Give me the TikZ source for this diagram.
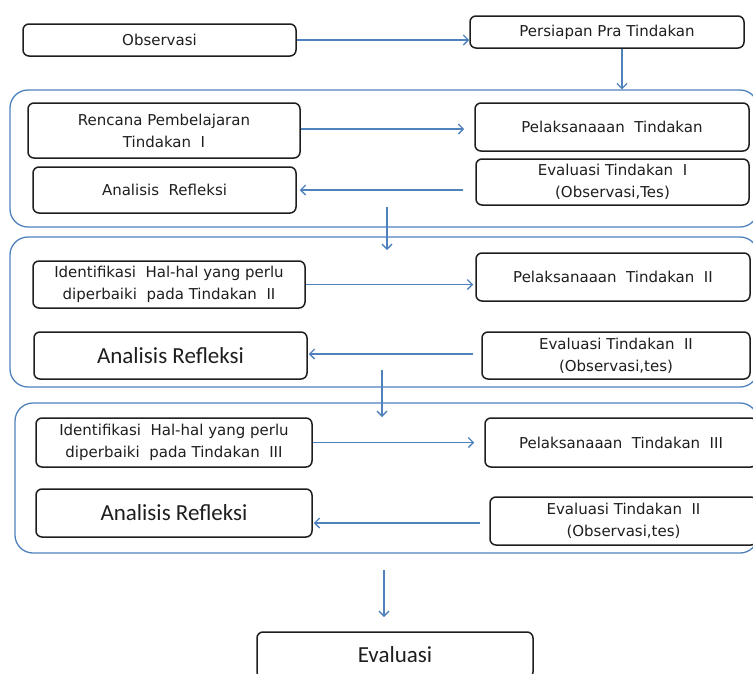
\documentclass[tikz,border=0pt]{standalone}
\usepackage{fontspec}
\usepackage{tikz}
\usetikzlibrary{arrows.meta,positioning}
\newfontfamily\boxfont{DejaVu Sans}
\newfontfamily\bigfont{Carlito}
\definecolor{ink}{RGB}{30,30,30}
\definecolor{flow}{RGB}{79,129,189}
\tikzset{
  stepbox/.style={draw=ink,line width=1.5pt,rounded corners=6pt,inner sep=0pt,
    align=center,text=ink,font=\boxfont\fontsize{15}{22}\selectfont},
  bigbox/.style={stepbox,font=\bigfont\fontsize{23}{26}\selectfont},
  phase/.style={draw=flow,line width=1.3pt,rounded corners=18pt,inner sep=0pt},
  arr/.style={-{Straight Barb[length=5pt,width=10pt]},draw=flow,line width=1.3pt},
}

\begin{document}
\begin{tikzpicture}[x=1pt,y=-1pt]
  \useasboundingbox (0,0) rectangle (753,673);
  % the three cycles
  \node[phase,minimum width=748pt,minimum height=137pt] (g1) at (384,158.5) {};
  \node[phase,minimum width=748pt,minimum height=150pt] (g2) at (384,312) {};
  \node[phase,minimum width=743pt,minimum height=150pt] (g3) at (386.5,478) {};

  \node[stepbox,minimum width=273pt,minimum height=32pt] (obs) at (159.5,40) {Observasi};
  \node[stepbox,minimum width=274pt,minimum height=32pt] (prep) at (607,32) {Persiapan Pra Tindakan};

  % cycle I
  \node[stepbox,minimum width=272pt,minimum height=55pt] (ren) at (164,130.5)
    {Rencana Pembelajaran\\Tindakan\ \ I};
  \node[stepbox,minimum width=274pt,minimum height=48pt] (pel1) at (612,127)
    {Pelaksanaaan\ \ Tindakan};
  \node[stepbox,minimum width=273pt,minimum height=46pt] (eva1) at (612.5,182)
    {Evaluasi Tindakan\ \ I\\(Observasi,Tes)};
  \node[stepbox,minimum width=263pt,minimum height=46pt] (ana1) at (164.5,190)
    {Analisis\ \ Refleksi};

  % cycle II
  \node[stepbox,minimum width=272pt,minimum height=47pt] (idn2) at (169,284.5)
    {Identifikasi\ \ Hal-hal yang perlu\\diperbaiki\ \ pada Tindakan\ \ II};
  \node[stepbox,minimum width=274pt,minimum height=48pt] (pel2) at (613,277)
    {Pelaksanaaan\ \ Tindakan\ \ II};
  \node[bigbox,minimum width=273pt,minimum height=47pt] (ana2) at (170.5,355.5)
    {Analisis Refleksi};
  \node[stepbox,minimum width=268pt,minimum height=47pt] (eva2) at (616,355.5)
    {Evaluasi Tindakan\ \ II\\(Observasi,tes)};

  % cycle III
  \node[stepbox,minimum width=276pt,minimum height=49pt] (idn3) at (174,442.5)
    {Identifikasi\ \ Hal-hal yang perlu\\diperbaiki\ \ pada Tindakan\ \ III};
  \node[stepbox,minimum width=272pt,minimum height=49pt] (pel3) at (621,442.5)
    {Pelaksanaaan\ \ Tindakan\ \ III};
  \node[bigbox,minimum width=276pt,minimum height=48pt] (ana3) at (174,513)
    {Analisis Refleksi};
  \node[stepbox,minimum width=267pt,minimum height=48pt] (eva3) at (623.5,521)
    {Evaluasi Tindakan\ \ II\\(Observasi,tes)};

  \node[bigbox,minimum width=276pt,minimum height=46pt] (evf) at (395,655) {Evaluasi};

  % free ends of the arrows between cycles
  \coordinate (d1a) at (387,207);
  \coordinate (d1b) at (387,250);
  \coordinate (d2a) at (382,370);
  \coordinate (d2b) at (382,417);
  \coordinate (d3a) at (384,570);
  \coordinate (d3b) at (384,617);

  \draw[arr] (obs.east) -- (obs.east -| prep.west);
  \draw[arr] ([xshift=15pt]prep.south) -- ([xshift=15pt]prep.south |- g1.north);
  \draw[arr,shorten >=10pt] ([yshift=1.5pt]ren.east) -- ([yshift=1.5pt]ren.east -| pel1.west);
  \draw[arr,shorten <=12pt,shorten >=3pt] (ana1.east -| eva1.west) -- (ana1.east);
  \draw[arr] (d1a) -- (d1b);
  \draw[arr,shorten >=2pt] (idn2.east) -- (idn2.east -| pel2.west);
  \draw[arr,shorten <=8pt,shorten >=1pt] ([yshift=1.5pt]eva2.west) -- ([yshift=1.5pt]eva2.west -| ana2.east);
  \draw[arr] (d2a) -- (d2b);
  \draw[arr,shorten >=10pt] (idn3.east) -- (idn3.east -| pel3.west);
  \draw[arr,shorten <=9pt,shorten >=1pt] ([yshift=-2pt]eva3.west) -- ([yshift=-2pt]eva3.west -| ana3.east);
  \draw[arr] (d3a) -- (d3b);
\end{tikzpicture}
\end{document}
